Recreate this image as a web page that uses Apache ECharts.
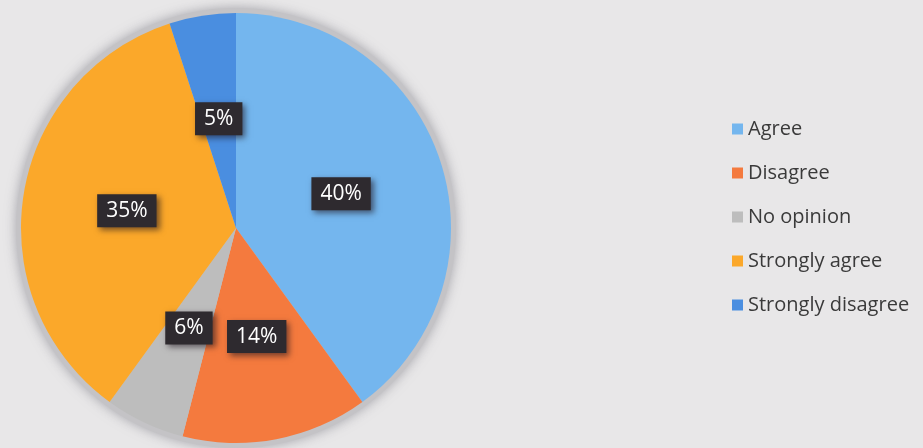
<!DOCTYPE html>
<html>
<head>
<meta charset="utf-8">
<script src="https://cdn.jsdelivr.net/npm/echarts@6/dist/echarts.min.js"></script>
<style>
  html, body { margin: 0; padding: 0; background: #e8e7e8; }
  #chart { width: 923px; height: 448px; }
</style>
</head>
<body>
<div id="chart"></div>
<script>
// answers, clockwise from the top
const categories = ["Agree", "Disagree", "No opinion", "Strongly agree", "Strongly disagree"];
const percents = [40, 14, 6, 35, 5];
const colors = ["#74b6ee", "#f47a3e", "#bdbdbd", "#fba82a", "#4a8ee0"];

const chart = echarts.init(document.getElementById("chart"));

chart.setOption({
  backgroundColor: "#e8e7e8",
  legend: {
    orient: "vertical",
    left: 727,
    top: 114,
    icon: "rect",
    itemWidth: 11,
    itemHeight: 11,
    itemGap: 24,
    data: categories,
    textStyle: {
      fontFamily: "Open Sans",
      fontSize: 20,
      color: "#3a3a3a"
    }
  },
  series: [
    {
      // gray halo behind the pie
      type: "pie",
      silent: true,
      center: [236, 228],
      radius: 220,
      label: { show: false },
      itemStyle: {
        color: "#c4c3c6",
        shadowBlur: 12,
        shadowColor: "rgba(120,120,130,0.6)"
      },
      data: [{ value: 1, name: "" }]
    },
    {
      type: "pie",
      center: [236, 228],
      radius: 215,
      startAngle: 90,
      clockwise: true,
      data: categories.map((c, i) => ({
        name: c,
        value: percents[i],
        itemStyle: { color: colors[i] }
      })),
      label: {
        show: true,
        position: "inside",
        formatter: "{c}%",
        color: "#fff",
        fontFamily: "Open Sans",
        fontSize: 21,
        backgroundColor: "#2e2a2f",
        padding: [7, 9, 5, 9],
        shadowBlur: 6,
        shadowOffsetX: 3,
        shadowOffsetY: 3,
        shadowColor: "rgba(30,20,30,0.6)"
      },
      labelLine: { show: false }
    }
  ]
});
</script>
</body>
</html>
